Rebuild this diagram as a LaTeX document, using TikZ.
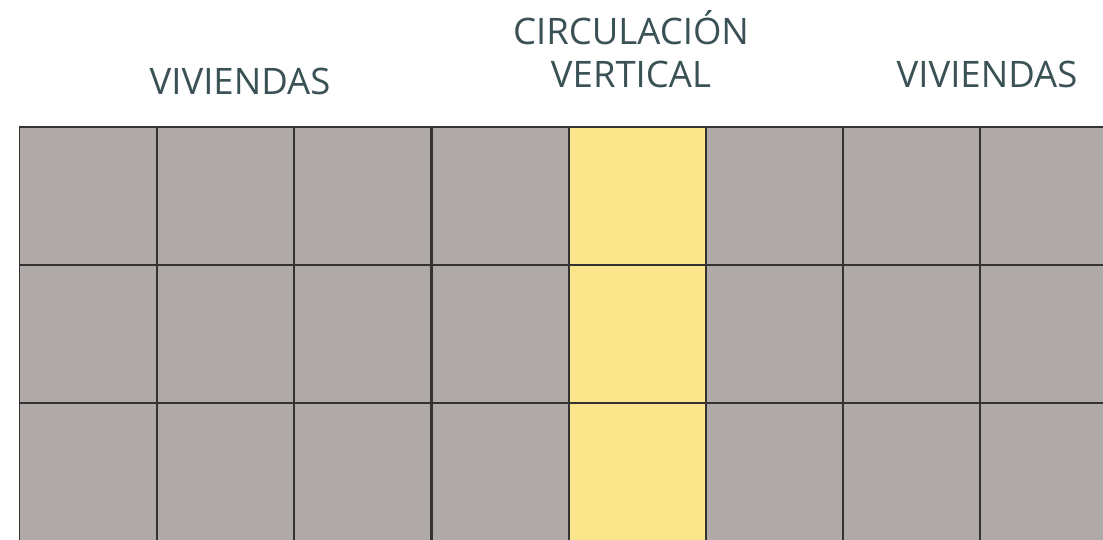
\documentclass[tikz,border=0pt]{standalone}
\usepackage{fontspec}
\setmainfont{Open Sans}
\definecolor{cellgrey}{HTML}{AFAAA7}
\definecolor{cellyellow}{HTML}{FAE58B}
\definecolor{gridline}{HTML}{333333}
\definecolor{labeltext}{HTML}{3A5156}
\begin{document}
\begin{tikzpicture}[x=1pt,y=1pt,
  cell/.style={draw=gridline,line width=1.6pt,fill=cellgrey,minimum width=137pt,minimum height=138pt,inner sep=0pt,anchor=north west},
  circ/.style={cell,fill=cellyellow},
  lbl/.style={text=labeltext,font=\fontsize{36.5}{40}\selectfont,inner sep=0pt,anchor=base}]
\useasboundingbox (0,0) rectangle (1103,539);
\begin{scope}
\clip (0,0) rectangle (1103,539);
\foreach \c [count=\i] in {18.5,156,293,431,568,705,842,979}{
  \foreach \r [count=\j] in {413,275,137}{
    \ifnum\i=5
      \node[circ] (c\i\j) at (\c,\r) {};
    \else
      \node[cell] (c\i\j) at (\c,\r) {};
    \fi
  }
}
\end{scope}
\node[lbl] (viv1) at (240,444) {VIVIENDAS};
\node[lbl] (circ1) at (631,494) {CIRCULACIÓN};
\node[lbl] (circ2) at (631,451) {VERTICAL};
\node[lbl] (viv2) at (987,451) {VIVIENDAS};
\end{tikzpicture}
\end{document}
